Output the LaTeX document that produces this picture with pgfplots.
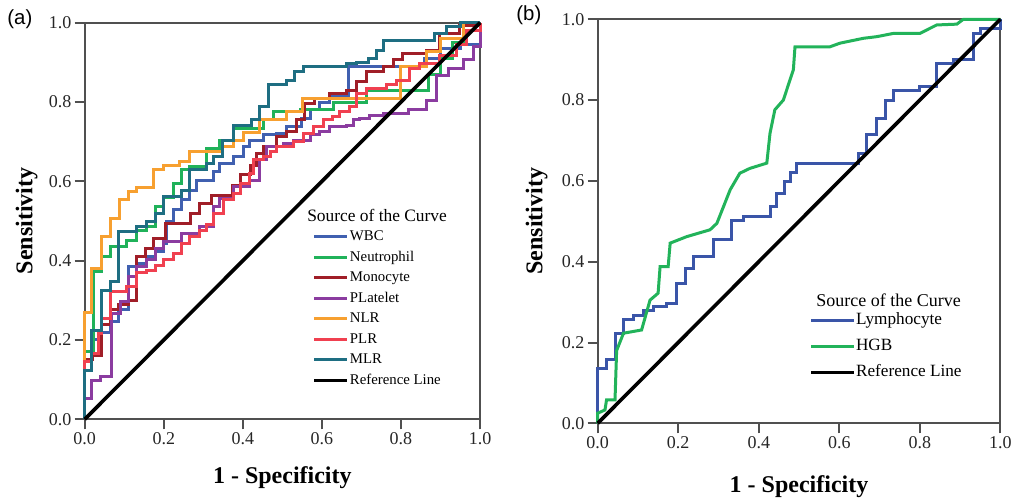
\documentclass[border=0pt]{standalone}
\usepackage{fontspec}
\setmainfont{Liberation Serif}
\newfontfamily\arialf{Liberation Sans}
\usepackage{pgfplots}
\pgfplotsset{compat=1.18}

\definecolor{cwbc}{RGB}{64,96,176}
\definecolor{cneu}{RGB}{32,178,90}
\definecolor{cmono}{RGB}{160,30,40}
\definecolor{cplt}{RGB}{139,60,160}
\definecolor{cnlr}{RGB}{247,160,48}
\definecolor{cplr}{RGB}{240,64,80}
\definecolor{cmlr}{RGB}{30,110,130}
\definecolor{clym}{RGB}{58,85,168}
\definecolor{chgb}{RGB}{34,179,90}
\definecolor{axgray}{RGB}{80,80,80}

\pgfplotsset{
  rocax/.style={
    scale only axis,
    xmin=0, xmax=1, ymin=0, ymax=1,
    clip=false,
    xtick={0,0.2,0.4,0.6,0.8,1}, ytick={0,0.2,0.4,0.6,0.8,1},
    tick pos=left, tick align=outside,
    major tick length=5pt,
    axis line style={draw=axgray, line width=1pt},
    every tick/.style={draw=axgray, line width=1pt},
    ticklabel style={font=\fontsize{9}{10}\selectfont, text=black!85, inner sep=1.5pt},
    /pgf/number format/fixed,
    /pgf/number format/fixed zerofill,
    /pgf/number format/precision=1,
    /pgf/number format/assume math mode=true,
    xlabel={1 - Specificity}, ylabel={Sensitivity},
    label style={font=\bfseries\fontsize{12}{14}\selectfont},
    legend cell align=left,
    every axis plot/.append style={line width=1.5pt},
  },
}

\begin{document}
\begin{tikzpicture}
\useasboundingbox (0,0) rectangle (508pt,249.5pt);

% panel (a)
\begin{axis}[rocax,
  at={(42.35pt,39.85pt)}, anchor=south west,
  width=197.65pt, height=198.3pt,
  xlabel style={at={([yshift=-29pt]axis description cs:0.5,0)}, anchor=center},
  ylabel style={at={([xshift=-29pt]axis description cs:0,0.5)}, anchor=center},
  legend image code/.code={\draw[#1] (0pt,0pt) -- (16.5pt,0pt);},
  legend style={draw=none, fill=white, inner sep=0pt,
    at={(axis cs:0.575,0.279)}, anchor=west,
    font=\fontsize{7.4}{8}\selectfont, row sep=3.65pt,
    nodes={inner xsep=0.5pt, inner ysep=0pt, text height=5.2pt, text depth=1.4pt},
    /tikz/every even column/.append style={column sep=0pt}},
]
\addplot[cwbc, const plot] coordinates {
 (0,0) (0,0.15) (0.018,0.20) (0.043,0.22) (0.064,0.246) (0.085,0.276) (0.11,0.385)
 (0.131,0.393) (0.157,0.41) (0.178,0.423) (0.199,0.444) (0.208,0.5) (0.224,0.528)
 (0.245,0.553) (0.266,0.578) (0.283,0.603) (0.325,0.624) (0.342,0.645) (0.376,0.662)
 (0.401,0.687) (0.418,0.704) (0.452,0.717) (0.485,0.721) (0.51,0.738) (0.548,0.759)
 (0.57,0.78) (0.595,0.80) (0.62,0.814) (0.667,0.889) (0.86,0.91) (0.9,0.936)
 (0.95,0.944) (1,1)};
\addlegendentry{WBC}
\addplot[cneu, const plot] coordinates {
 (0,0) (0,0.17) (0.022,0.372) (0.043,0.41) (0.064,0.435) (0.106,0.452) (0.131,0.477)
 (0.157,0.485) (0.178,0.536) (0.199,0.56) (0.224,0.595) (0.245,0.629) (0.266,0.637)
 (0.308,0.683) (0.342,0.704) (0.376,0.734) (0.452,0.755) (0.477,0.776) (0.545,0.78)
 (0.63,0.80) (0.713,0.83) (0.869,0.87) (0.9,0.91) (0.93,0.95) (0.96,0.98) (1,1)};
\addlegendentry{Neutrophil}
\addplot[cmono, const plot] coordinates {
 (0,0) (0,0.15) (0.02,0.16) (0.043,0.24) (0.064,0.276) (0.085,0.29) (0.11,0.30)
 (0.13,0.41) (0.154,0.43) (0.175,0.456) (0.205,0.494) (0.268,0.52) (0.29,0.545)
 (0.32,0.565) (0.374,0.59) (0.395,0.616) (0.42,0.64) (0.435,0.67) (0.452,0.687)
 (0.485,0.713) (0.51,0.725) (0.536,0.755) (0.557,0.797) (0.582,0.81) (0.62,0.822)
 (0.662,0.83) (0.687,0.851) (0.713,0.876) (0.755,0.889) (0.78,0.906) (0.805,0.923)
 (0.864,0.931) (0.898,0.973) (0.949,0.994) (1,1)};
\addlegendentry{Monocyte}
\addplot[cplt, const plot] coordinates {
 (0,0) (0,0.053) (0.018,0.099) (0.039,0.108) (0.068,0.267) (0.09,0.297) (0.11,0.36)
 (0.131,0.385) (0.157,0.402) (0.178,0.431) (0.199,0.448) (0.245,0.469) (0.291,0.486)
 (0.325,0.536) (0.342,0.557) (0.376,0.587) (0.418,0.603) (0.443,0.654) (0.46,0.687)
 (0.502,0.696) (0.527,0.704) (0.57,0.717) (0.595,0.725) (0.62,0.738) (0.662,0.742)
 (0.679,0.755) (0.696,0.759) (0.721,0.767) (0.755,0.771) (0.82,0.78) (0.865,0.805)
 (0.89,0.868) (0.92,0.885) (0.958,0.906) (0.983,0.94) (1,1)};
\addlegendentry{PLatelet}
\addplot[cnlr, const plot] coordinates {
 (0,0) (0,0.27) (0.018,0.38) (0.043,0.46) (0.064,0.507) (0.088,0.553) (0.11,0.574)
 (0.131,0.584) (0.175,0.629) (0.199,0.641) (0.241,0.651) (0.265,0.675) (0.349,0.687)
 (0.376,0.704) (0.401,0.723) (0.443,0.755) (0.51,0.776) (0.552,0.809) (0.798,0.889)
 (0.865,0.927) (0.899,0.96) (0.958,1) (1,1)};
\addlegendentry{NLR}
\addplot[cplr, const plot] coordinates {
 (0,0) (0,0.145) (0.018,0.166) (0.034,0.217) (0.043,0.255) (0.064,0.322) (0.106,0.335)
 (0.131,0.369) (0.157,0.376) (0.178,0.389) (0.199,0.402) (0.224,0.418) (0.245,0.444)
 (0.266,0.46) (0.291,0.477) (0.308,0.49) (0.325,0.519) (0.35,0.553) (0.376,0.57)
 (0.393,0.595) (0.418,0.62) (0.426,0.654) (0.452,0.662) (0.47,0.675) (0.485,0.687)
 (0.527,0.70) (0.553,0.721) (0.578,0.738) (0.603,0.755) (0.628,0.763) (0.645,0.776)
 (0.671,0.788) (0.687,0.822) (0.713,0.834) (0.763,0.843) (0.789,0.855) (0.822,0.885)
 (0.848,0.897) (0.898,0.918) (0.94,0.944) (0.965,0.98) (1,1)};
\addlegendentry{PLR}
\addplot[cmlr, const plot] coordinates {
 (0,0) (0,0.124) (0.018,0.225) (0.043,0.326) (0.064,0.347) (0.085,0.473) (0.131,0.486)
 (0.157,0.50) (0.178,0.52) (0.199,0.561) (0.245,0.578) (0.266,0.629) (0.308,0.645)
 (0.325,0.662) (0.349,0.704) (0.376,0.742) (0.422,0.755) (0.443,0.788) (0.464,0.843)
 (0.51,0.855) (0.53,0.876) (0.553,0.889) (0.662,0.897) (0.687,0.90) (0.717,0.91)
 (0.738,0.931) (0.755,0.956) (0.885,0.973) (0.915,0.99) (0.95,1) (1,1)};
\addlegendentry{MLR}
\addplot[black, line width=1.8pt] coordinates {(0,0) (1,1)};
\addlegendentry{Reference Line}
\node[anchor=west, font=\fontsize{8.7}{10}\selectfont, inner sep=0pt] at (axis cs:0.562,0.515) {Source of the Curve};
\end{axis}

% panel (b)
\begin{axis}[rocax,
  at={(298.85pt,37.85pt)}, anchor=south west,
  width=201.3pt, height=202pt,
  xlabel style={at={([yshift=-31.5pt]axis description cs:0.5,0)}, anchor=center},
  ylabel style={at={([xshift=-30.5pt]axis description cs:0,0.5)}, anchor=center},
  legend image code/.code={\draw[#1] (0pt,0pt) -- (21.5pt,0pt);},
  legend style={draw=none, fill=white, inner sep=0pt,
    at={(axis cs:0.525,0.19)}, anchor=west,
    font=\fontsize{8.6}{10}\selectfont, row sep=5pt,
    nodes={inner xsep=0pt, inner ysep=0pt, text height=6pt, text depth=2pt},
    /tikz/every even column/.append style={column sep=0pt}},
]
\addplot[clym, const plot] coordinates {
 (0,0) (0,0.136) (0.022,0.157) (0.043,0.223) (0.064,0.256) (0.089,0.268) (0.113,0.28)
 (0.138,0.289) (0.171,0.297) (0.196,0.347) (0.217,0.384) (0.238,0.413) (0.287,0.454)
 (0.333,0.503) (0.362,0.512) (0.428,0.536) (0.445,0.569) (0.465,0.598) (0.48,0.62)
 (0.494,0.644) (0.647,0.668) (0.668,0.714) (0.693,0.755) (0.714,0.80) (0.734,0.825)
 (0.8,0.833) (0.842,0.891) (0.883,0.90) (0.933,0.965) (0.95,0.978) (1,0.982) (1,1)};
\addlegendentry{Lymphocyte}
\addplot[chgb] coordinates {
 (0,0) (0,0.025) (0.018,0.033) (0.022,0.058) (0.043,0.058) (0.047,0.18) (0.064,0.223)
 (0.109,0.231) (0.13,0.305) (0.15,0.322) (0.155,0.388) (0.175,0.388) (0.18,0.446)
 (0.221,0.462) (0.279,0.479) (0.296,0.495) (0.329,0.578) (0.353,0.619) (0.378,0.631)
 (0.42,0.644) (0.428,0.718) (0.44,0.776) (0.461,0.80) (0.486,0.875) (0.49,0.932)
 (0.577,0.932) (0.602,0.941) (0.66,0.953) (0.693,0.957) (0.734,0.965) (0.8,0.965)
 (0.842,0.986) (0.892,0.988) (0.908,1) (1,1)};
\addlegendentry{HGB}
\addplot[black, line width=1.8pt] coordinates {(0,0) (1,1)};
\addlegendentry{Reference Line}
\node[anchor=west, font=\fontsize{9}{10}\selectfont, inner sep=0pt] at (axis cs:0.542,0.305) {Source of the Curve};
\end{axis}

\node[anchor=west, inner sep=0pt, font=\arialf\fontsize{10.2}{12}\selectfont] at (3.5pt,240pt) {(a)};
\node[anchor=west, inner sep=0pt, font=\arialf\fontsize{10.2}{12}\selectfont] at (258pt,242pt) {(b)};
\end{tikzpicture}
\end{document}
